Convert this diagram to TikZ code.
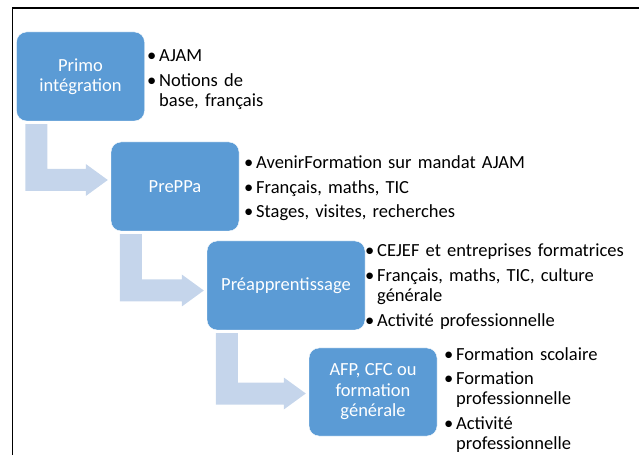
\documentclass[tikz,border=0pt]{standalone}
\usepackage{fontspec}
\setmainfont{Carlito}
\usetikzlibrary{calc}
\definecolor{boxblue}{RGB}{91,155,213}
\definecolor{arrowblue}{RGB}{197,213,235}
\newcommand{\boxfont}{\fontsize{18.5}{20.5}\selectfont}
\newcommand{\liste}{\hangindent=12pt\hangafter=1\makebox[12pt][l]{\textbullet}}
\newcommand{\puce}{\par\vspace{3.8pt}\noindent\liste}
% bent arrow from the bottom of one box to the left side of the next
\newcommand{\coude}[3]{%
  \fill[fleche] let \p1=(#1.south west), \p2=(#2.west) in
    (\x1+9pt,\y1-3pt) -- (\x1+31pt,\y1-3pt) -- (\x1+31pt,\y2+#3+11pt)
    -- (\x2-25pt,\y2+#3+11pt) -- (\x2-25pt,\y2+#3+16pt) -- (\x2-3pt,\y2+#3)
    -- (\x2-25pt,\y2+#3-16pt) -- (\x2-25pt,\y2+#3-11pt) -- (\x1+9pt,\y2+#3-11pt) -- cycle;}
\tikzset{
  box/.style   = {rectangle, rounded corners=10pt, fill=boxblue, draw=white,
                  text=white, align=center, minimum height=89pt,
                  minimum width=128pt, font=\boxfont},
  puces/.style = {anchor=base west, inner sep=0pt, text width=340pt,
                  font=\boxfont},
  fleche/.style = {fill=arrowblue},
  cadre/.style  = {line width=1.5pt}
}
\begin{document}
\begin{tikzpicture}[x=1pt,y=1pt]
  \useasboundingbox (0,0) rectangle (639,455);
  \draw[cadre] (12.5,0) -- (12.5,447) -- (639,447);
  \node[box] (b1) at (80.5,378.5) {Primo\\intégration};
  \node[box] (b2) at (175,268.5) {PrePPa};
  \node[box,minimum width=158pt] (b3) at (286,169.5) {Préapprentissage};
  \node[box,minimum height=88pt] (b4) at (373,63) {AFP, CFC ou\\formation\\générale};
  \coude{b1}{b2}{6.5pt}
  \coude{b2}{b3}{-5pt}
  \coude{b3}{b4}{-1.5pt}
  \node[puces] (l1) at (147,393) {\liste AJAM\puce Notions de\newline base, français\par};
  \node[puces] (l2) at (244,286) {\liste AvenirFormation sur mandat AJAM\puce Français, maths, TIC\puce Stages, visites, recherches\par};
  \node[puces] (l3) at (365,198) {\liste CEJEF et entreprises formatrices\puce Français, maths, TIC, culture\newline générale\puce Activité professionnelle\par};
  \node[puces] (l4) at (444,95) {\liste Formation scolaire\puce Formation\newline professionnelle\puce Activité\newline professionnelle\par};
\end{tikzpicture}
\end{document}
